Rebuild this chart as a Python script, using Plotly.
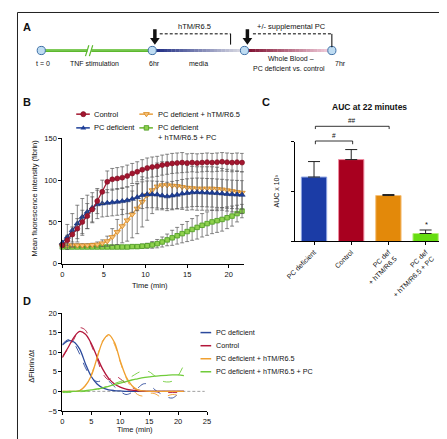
import plotly.graph_objects as go

W, H = 447, 439
def fx(x): return x / W
def fy(y): return 1 - y / H

# ---------------- Panel B data ----------------
time_b = [0.0, 0.6, 1.2, 1.8, 2.4, 3.0, 3.6, 4.2, 4.8, 5.4, 6.0, 6.6, 7.2, 7.8, 8.4, 9.0, 9.6,
          10.2, 10.8, 11.4, 12.0, 12.6, 13.2, 13.8, 14.4, 15.0, 15.6, 16.2, 16.8, 17.4, 18.0,
          18.6, 19.2, 19.8, 20.4, 21.0, 21.6]
control_mfi = [22, 28, 35, 42, 50, 57, 65, 75, 86, 98, 101, 102, 103, 105, 108, 110, 112.5,
               114.5, 115.7, 116.5, 118, 119, 120, 120.5, 121, 120.5, 121, 120.5, 121, 121.5, 121,
               121.5, 122, 121.5, 121, 121.5, 121]
control_sd = [2, 6, 9, 12, 14, 15, 15, 15, 14, 13, 13, 13, 13, 13, 12, 12, 12,
              12, 12, 12, 12, 12, 12, 12, 12, 11, 11, 11, 11, 11, 11,
              11, 11, 11, 11, 11, 11]
pcdef_mfi = [25, 32, 40, 48, 56, 62, 67, 71, 72, 72.7, 73.3, 74, 74.8, 75.8, 77.5, 79.5, 82,
             83, 83, 82.7, 81.5, 80.5, 81.5, 82.5, 83.8, 84.6, 85.3, 85.5, 85.3, 85, 84.8,
             84.4, 84, 83.4, 83, 82.7, 82.4]
pcdef_sd = [3, 15, 20, 22, 22, 20, 18, 17, 16, 16, 16, 16, 16, 16, 16, 16, 16,
            16, 16, 16, 17, 17, 17, 17, 17, 17, 17, 17, 17, 17, 17,
            17, 17, 17, 17, 17, 17]
pcdef_tm_mfi = [22, 22, 22, 22, 22, 22, 22.5, 23, 24.5, 27, 32, 38, 45, 52, 59, 66, 74,
                82, 88, 92.5, 94, 94, 93.5, 93, 92, 91, 90.5, 90, 90, 90, 90,
                89.5, 89, 88, 87, 86, 85]
pcdef_tm_sd = [2, 2, 2, 2, 2, 2, 2, 3, 4, 6, 10, 15, 20, 25, 28, 30, 30,
               30, 28, 28, 28, 28, 28, 27, 27, 27, 26, 26, 26, 26, 26,
               26, 25, 25, 25, 25, 25]
pcdef_tm_pc_mfi = [20, 20, 20, 20, 20, 20, 20, 20, 20, 20, 20, 20, 20, 20, 20.5, 20.5, 21,
                   21.5, 22.5, 24, 26, 28.5, 31, 33.5, 36, 38.5, 41, 43.5, 46, 48, 50,
                   51.5, 53, 55, 57, 60, 63]
pcdef_tm_pc_sd = [1, 1, 1, 1, 1, 1, 1, 1, 1, 1, 1, 1, 1.5, 1.5, 2, 2, 2.5,
                  3, 4, 5, 6, 7, 9, 10, 11, 12, 13, 14, 14, 14, 14,
                  14, 14, 13, 12, 10, 8]

# ---------------- Panel C data ----------------
auc_labels = ["PC deficient", "Control", "PC def<br>+ hTM/R6.5", "PC def<br>+ hTM/R6.5 + PC"]
auc_values = [1.29, 1.64, 0.92, 0.16]
auc_errors = [0.31, 0.20, 0.02, 0.07]
auc_colors = ["#1b3ca6", "#a8001f", "#e3890a", "#66dd11"]
auc_edges = ["#8ea4e2", "#f08aa0", "#f5c07a", "#b6f07a"]

# ---------------- Panel D data ----------------
time_d = [0, 1, 2, 3, 4, 5, 6, 7, 8, 9, 10, 11, 12, 13, 14, 15, 16, 17, 18, 19, 20, 21]
pcdef_fit = [11.8, 12.9, 12.6, 10.8, 7.0, 3.8, 1.9, 0.9, 0.4, 0.2, 0.1, 0, 0, 0, 0, 0, 0, 0, 0, 0, 0, 0]
pcdef_raw = [12.0, 13.2, 12.2, 9.5, 6.0, 3.6, 2.5, 2.8, 2.6, 1.2, 0.0, -0.8, -0.3, 0.8, 1.9, 1.8,
             0.4, -0.6, -1.4, -1.7, -0.8, -0.3]
control_fit = [8.8, 11.2, 13.8, 15.3, 14.6, 12.2, 8.8, 5.6, 3.3, 1.9, 1.1, 0.6, 0.3, 0.15, 0.05,
               0, 0, 0, 0, 0, 0, 0]
control_raw = [8.5, 11.0, 13.3, 16.2, 15.6, 11.8, 8.3, 4.5, 3.0, 4.0, 3.2, 2.0, 1.0, 0.4, 0.1, 0,
               -0.1, -0.2, -0.3, -0.3, -0.3, -0.2]
tm_fit = [0, 0, 0, 0.2, 1.5, 4.0, 8.5, 12.8, 14.5, 12.5, 7.8, 3.8, 1.5, 0.4, 0.1, 0, 0, 0, 0, 0, 0, 0]
tm_raw = [0, 0, 0, 0.2, 1.5, 4.2, 8.8, 13.0, 14.2, 12.0, 7.5, 3.5, 0.8, -0.8, -1.2, -0.5, -0.6,
          -1.4, -1.2, -0.8, -1.0, -1.4]
tm_pc_fit = [-0.1, -0.05, 0, 0.1, 0.2, 0.4, 0.6, 0.9, 1.3, 1.7, 2.1, 2.5, 2.9, 3.2, 3.5, 3.7, 3.9,
             4.0, 4.1, 4.2, 4.2, 4.0]
tm_pc_raw = [-0.3, -0.3, -0.2, -0.1, 0, 0.2, 0.5, 0.9, 1.4, 2.0, 2.5, 3.0, 3.8, 4.7, 5.3, 5.0, 3.9,
             2.8, 2.4, 2.6, 4.0, 6.8]

RED, BLUE, ORANGE, GREEN = "#a3162f", "#1e3f98", "#e8a040", "#6ab42d"
D_BLUE, D_RED, D_ORANGE, D_GREEN = "#2c4a9c", "#b3163a", "#f0a030", "#70cc3a"
FONT = "Liberation Sans, Arial, sans-serif"
NARROW = "Liberation Sans Narrow, Arial Narrow, Liberation Sans, Arial, sans-serif"

fig = go.Figure()

err_style = dict(type="data", color="#555555", thickness=0.7, width=2)

series_b = [
    ("PC deficient + hTM/R6.5 + PC", pcdef_tm_pc_mfi, pcdef_tm_pc_sd, GREEN,
     dict(symbol="square", color="#8fd14f", size=4.5, line=dict(color="#4a9a20", width=0.8))),
    ("PC deficient + hTM/R6.5", pcdef_tm_mfi, pcdef_tm_sd, ORANGE,
     dict(symbol="triangle-down", color="#f6c27a", size=5.5, line=dict(color="#d8861a", width=0.8))),
    ("PC deficient", pcdef_mfi, pcdef_sd, BLUE,
     dict(symbol="triangle-up", color=BLUE, size=5.5, line=dict(color="#142d70", width=0.6))),
    ("Control", control_mfi, control_sd, RED,
     dict(symbol="circle", color=RED, size=5, line=dict(color="#7a0f22", width=0.6))),
]
for name, vals, sd, col, mk in series_b:
    fig.add_trace(go.Scatter(x=time_b, y=vals, name=name, mode="lines+markers",
                             line=dict(color=col, width=1.2), marker=mk,
                             error_y=dict(array=sd, **err_style),
                             cliponaxis=False, showlegend=False, xaxis="x", yaxis="y"))

# Panel C bars
fig.add_trace(go.Bar(x=auc_labels, y=auc_values, width=0.68,
                     marker=dict(color=auc_colors, line=dict(color=auc_edges, width=1)),
                     error_y=dict(type="data", array=auc_errors, arrayminus=[0, 0, 0, 0],
                                  symmetric=False, color="#222222", thickness=1, width=6),
                     showlegend=False, xaxis="x2", yaxis="y2"))

# Panel D curves
series_d = [
    (pcdef_raw, pcdef_fit, D_BLUE),
    (control_raw, control_fit, D_RED),
    (tm_raw, tm_fit, D_ORANGE),
    (tm_pc_raw, tm_pc_fit, D_GREEN),
]
for raw, fit, col in series_d:
    fig.add_trace(go.Scatter(x=time_d, y=raw, mode="lines",
                             line=dict(color=col, width=0.9, dash="dash", shape="spline", smoothing=1.0),
                             showlegend=False, xaxis="x3", yaxis="y3"))
for raw, fit, col in series_d:
    fig.add_trace(go.Scatter(x=time_d, y=fit, mode="lines",
                             line=dict(color=col, width=1.3, shape="spline", smoothing=1.0),
                             showlegend=False, xaxis="x3", yaxis="y3"))

shapes = []
ann = []

def text(x, y, s, size=7.5, xanchor="center", yanchor="middle", bold=False, family=FONT,
         angle=0, color="#111111", align="center"):
    ann.append(dict(x=fx(x), y=fy(y), xref="paper", yref="paper", text=(f"<b>{s}</b>" if bold else s),
                    showarrow=False, xanchor=xanchor, yanchor=yanchor, textangle=angle, align=align,
                    font=dict(family=family, size=size, color=color)))

def pline(x0, y0, x1, y1, color="black", width=1, dash="solid"):
    shapes.append(dict(type="line", xref="paper", yref="paper", x0=fx(x0), y0=fy(y0),
                       x1=fx(x1), y1=fy(y1), line=dict(color=color, width=width, dash=dash)))

def ppath(pts, fill, line_color=None, lw=0):
    d = "M " + " L ".join(f"{fx(x):.5f},{fy(y):.5f}" for x, y in pts) + " Z"
    shapes.append(dict(type="path", xref="paper", yref="paper", path=d, fillcolor=fill,
                       line=dict(color=line_color or fill, width=lw)))

def pcircle(cx, cy, r, fill, line_color, lw=1):
    shapes.append(dict(type="circle", xref="paper", yref="paper", x0=fx(cx - r), x1=fx(cx + r),
                       y0=fy(cy + r), y1=fy(cy - r), fillcolor=fill, line=dict(color=line_color, width=lw)))

def lerp(c0, c1, t):
    return "rgb(%d,%d,%d)" % tuple(round(a + (b - a) * t) for a, b in zip(c0, c1))

# ---------------- Panel A: timeline ----------------
ty = 39.3
pline(25, ty, 139.3, ty, color="#5cb82e", width=3)
pline(25, ty - 0.6, 139.3, ty - 0.6, color="#a8e08a", width=0.8)
N = 24
for i in range(N):
    xa = 139.3 + (234.3 - 139.3) * i / N
    xb = 139.3 + (234.3 - 139.3) * (i + 1) / N + 0.3
    pline(xa, ty, xb, ty, color=lerp((28, 42, 130), (220, 220, 228), i / (N - 1)), width=3)
    xa2 = 234.3 + (324.3 - 234.3) * i / N
    xb2 = 234.3 + (324.3 - 234.3) * (i + 1) / N + 0.3
    pline(xa2, ty, xb2, ty, color=lerp((125, 12, 45), (242, 208, 222), i / (N - 1)), width=3)
# break marks
ppath([(72.5, 37.3), (76.5, 37.3), (76.5, 41.3), (72.5, 41.3)], "white")
pline(70.5, 45, 74, 34, color="#5cb82e", width=1.2)
pline(74.5, 45, 78, 34, color="#5cb82e", width=1.2)
for cx in (25, 139.3, 234.3, 324.3):
    pcircle(cx, ty, 4.2, "#bfdcf2", "#3d6fa6", 1)
# arrows
for ax in (142.0, 237.3):
    ppath([(ax - 1.8, 17.5), (ax + 1.8, 17.5), (ax + 1.8, 26.5), (ax + 5, 26.5), (ax, 33.5),
           (ax - 5, 26.5), (ax - 1.8, 26.5)], "#111111")
# brackets
pline(147, 22.3, 220, 22.3, dash="3px,2px", width=1)
pline(220, 22.3, 220, 33.3, width=1)
pline(243, 22.3, 324.3, 22.3, dash="3px,2px", width=1)
pline(324.3, 22.3, 324.3, 36, width=1)
text(10, 15, "A", size=11, bold=True)
text(182.7, 15, "hTM/R6.5", size=7.5)
text(282.7, 15, "+/- supplemental PC", size=7.5)
text(26.7, 52.3, "t = 0", size=7)
text(80, 52.3, "TNF stimulation", size=7)
text(141.7, 52.3, "6hr", size=7)
text(186.7, 52.3, "media", size=7)
text(281.7, 47.7, "Whole Blood –", size=7)
text(280, 57.3, "PC deficient vs. control", size=7)
text(333.3, 52.3, "7hr", size=7)

# ---------------- Panel B: labels and legend ----------------
text(10, 92, "B", size=11, bold=True)
text(18, 190, "Mean fluorescence intensity (fibrin)", size=7.5, angle=-90, family=NARROW)
text(137.3, 279.3, "Time (min)", size=7.5, family=NARROW)

def tri(cx, cy, s, up=True):
    h = s * 0.9
    if up:
        return [(cx - s, cy + h * 0.6), (cx + s, cy + h * 0.6), (cx, cy - h)]
    return [(cx - s, cy - h * 0.6), (cx + s, cy - h * 0.6), (cx, cy + h)]

# Control
pline(61, 104.3, 75, 104.3, color=RED, width=1.5)
pcircle(68.3, 104.3, 2.6, RED, "#7a0f22", 0.6)
text(77.3, 104.3, "Control", size=7.5, xanchor="left")
# PC deficient
pline(61, 118.3, 75, 118.3, color=BLUE, width=1.5)
ppath(tri(68.3, 118.3, 3.0, True), BLUE)
text(77.3, 118.3, "PC deficient", size=7.5, xanchor="left")
# PC deficient + hTM
pline(126, 104.3, 140, 104.3, color=ORANGE, width=1.5)
ppath(tri(133.3, 104.3, 3.0, False), "#f6c27a", "#d8861a", 0.8)
text(142.7, 104.3, "PC deficient + hTM/R6.5", size=7.5, xanchor="left")
# PC deficient + hTM + PC
pline(126, 118.3, 140, 118.3, color=GREEN, width=1.5)
ppath([(131, 116), (135.6, 116), (135.6, 120.6), (131, 120.6)], "#8fd14f", "#4a9a20", 0.8)
text(142.7, 122.8, "PC deficient<br>+ hTM/R6.5 + PC", size=7.5, xanchor="left", align="left")

# ---------------- Panel C: labels ----------------
text(256, 92.3, "C", size=11, bold=True)
text(363.3, 97.3, "AUC at 22 minutes", size=8.5, bold=True)
text(267, 183, "AUC x 10³", size=7, angle=-90, family=NARROW)
# significance brackets
pline(307.3, 116.7, 383.3, 116.7, width=0.8)
pline(307.3, 116.7, 307.3, 119.5, width=0.8)
pline(383.3, 116.7, 383.3, 119.5, width=0.8)
text(345, 110.5, "##", size=6.5)
pline(307.3, 131.7, 345.7, 131.7, width=0.8)
pline(307.3, 131.7, 307.3, 135, width=0.8)
pline(345.7, 131.7, 345.7, 135, width=0.8)
text(326, 126.5, "#", size=6.5)
text(421.5, 217, "*", size=7.5)

# ---------------- Panel D: labels and legend ----------------
text(10, 295, "D", size=11, bold=True)
text(15, 361.7, "ΔFibrin/Δt", size=7.5, angle=-90, family=NARROW)
text(121.7, 426.7, "Time (min)", size=7.5, family=NARROW)
shapes.append(dict(type="line", xref="x3", yref="y3", x0=0, x1=24.6, y0=0, y1=0,
                   line=dict(color="#888888", width=0.8, dash="3px,2px"), layer="below"))
d_leg = [("PC deficient", D_BLUE, 327.3), ("Control", D_RED, 340.7),
         ("PC deficient + hTM/R6.5", D_ORANGE, 354.0), ("PC deficient + hTM/R6.5 + PC", D_GREEN, 367.3)]
for lab, col, yy in d_leg:
    pline(189, yy, 200, yy, color=col, width=1.5)
    text(203, yy, lab, size=7.2, xanchor="left")

# frame
shapes.append(dict(type="rect", xref="paper", yref="paper", x0=fx(0.5), x1=fx(446), y0=fy(437.5),
                   y1=fy(0.5), line=dict(color="#222222", width=1)))

axis_common = dict(showgrid=False, zeroline=False, showline=True, linecolor="black", linewidth=1,
                   ticks="outside", ticklen=3, tickcolor="black", tickwidth=1,
                   tickfont=dict(family=FONT, size=7.5, color="#111111"))

fig.update_layout(
    width=W, height=H, margin=dict(l=0, r=0, t=0, b=0, pad=0),
    paper_bgcolor="white", plot_bgcolor="white", showlegend=False,
    bargap=0.32,
    xaxis=dict(domain=[fx(46.7), fx(233.5)], range=[0, 21.8], tickvals=[0, 5, 10, 15, 20],
               anchor="y", **axis_common),
    yaxis=dict(domain=[fy(257), fy(129)], range=[0, 150], tickvals=[0, 50, 100, 150],
               anchor="x", **axis_common),
    xaxis2=dict(domain=[fx(286), fx(440)], range=[-0.52, 3.5], type="category", tickangle=-45,
                anchor="y2", **{**axis_common, "tickfont": dict(family=FONT, size=7, color="#111111")}),
    yaxis2=dict(domain=[fy(234.3), fy(132.3)], range=[0, 2], tickvals=[0, 1, 2],
                showticklabels=False, anchor="x2", **axis_common),
    xaxis3=dict(domain=[fx(46.7), fx(195.7)], range=[0, 25], tickvals=[0, 5, 10, 15, 20, 25],
                anchor="y3", **axis_common),
    yaxis3=dict(domain=[fy(407.3), fy(307.3)], range=[-5, 20], tickvals=[-5, 0, 5, 10, 15, 20],
                anchor="x3", **axis_common),
    shapes=shapes, annotations=ann,
)

fig.write_html("out.html")
